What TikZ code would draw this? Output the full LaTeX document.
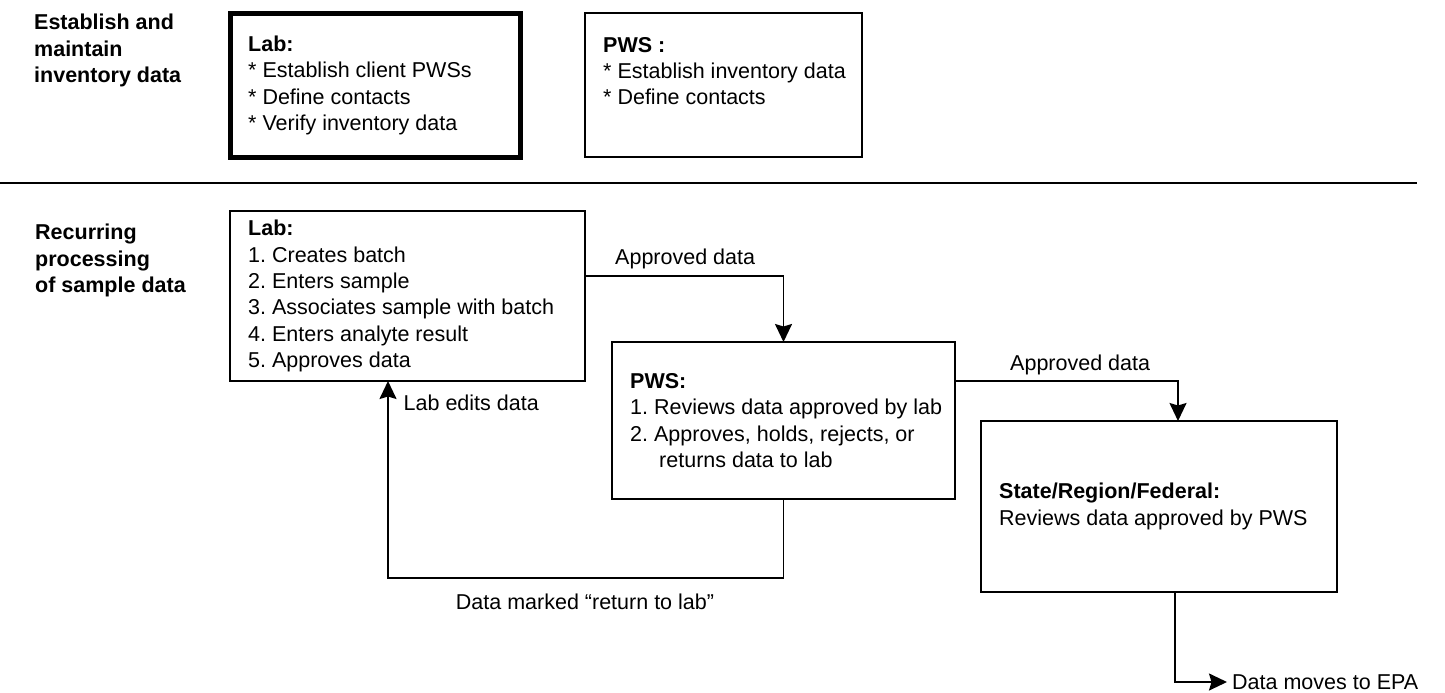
\documentclass[tikz,border=0pt]{standalone}
\usepackage{fontspec}
\setmainfont{Liberation Sans}
\usetikzlibrary{arrows.meta}
\newcommand{\dtxt}{\fontsize{21.5}{26.3}\selectfont\frenchspacing}
\begin{document}
\begin{tikzpicture}[x=1pt,y=-1pt,
  box/.style={draw, line width=1.7pt, outer sep=0pt, inner sep=0pt},
  thickbox/.style={box, line width=5pt},
  txt/.style={font=\dtxt, align=left, inner sep=0pt},
  hdr/.style={font=\dtxt\bfseries, align=left, inner sep=0pt},
  conn/.style={line width=1.8pt},
  tip/.style={-{Stealth[length=18pt,width=17pt,inset=2.5pt]}},
  sepline/.style={line width=2.6pt}
]
\useasboundingbox (0,0) rectangle (1445,693);

% left section labels
\node[hdr, anchor=north west] (sec1) at (34,14) {Establish and\\maintain\\inventory data};
\node[hdr, anchor=north west] (sec2) at (35,224) {Recurring\\processing\\of sample data};

% top boxes
\node[thickbox, minimum width=290pt, minimum height=143pt] (lab1) at (375,85.5) {};
\node[txt, anchor=west] (lab1t) at ([xshift=18pt]lab1.west) {\textbf{Lab:}\\* Establish client PWSs\\* Define contacts\\* Verify inventory data};

\node[box, minimum width=277pt, minimum height=144pt] (pws1) at (723.5,85) {};
\node[txt, anchor=north west] (pws1t) at ([xshift=18pt,yshift=-24pt]pws1.north west) {\textbf{PWS :}\\* Establish inventory data\\* Define contacts};

% separator
\coordinate (sepL) at (0,183);
\coordinate (sepR) at (1417,183);
\draw[sepline] (sepL) -- (sepR);

% process boxes
\node[box, minimum width=355pt, minimum height=170pt] (lab2) at (407.5,296) {};
\node[txt, anchor=west] (lab2t) at ([xshift=18pt]lab2.west) {\textbf{Lab:}\\1. Creates batch\\2. Enters sample\\3. Associates sample with batch\\4. Enters analyte result\\5. Approves data};

\node[box, minimum width=343pt, minimum height=157pt] (pws2) at (783.5,420.5) {};
\node[txt, anchor=west] (pws2t) at ([xshift=18pt]pws2.west) {\textbf{PWS:}\\1. Reviews data approved by lab\\2. Approves, holds, rejects, or\\\hspace*{29pt}returns data to lab};

\node[box, minimum width=356pt, minimum height=171pt] (state) at (1159,506.5) {};
\node[txt, anchor=west] (statet) at ([xshift=18pt]state.west) {\textbf{State/Region/Federal:}\\Reviews data approved by PWS};

% connector labels
\node[txt, anchor=west] (ap1) at (615,258.5) {Approved data};
\node[txt, anchor=west] (ap2) at (1010,364.5) {Approved data};
\node[txt, anchor=west] (edit) at (403.5,403) {Lab edits data};
\node[txt] (mark) at (585,601.5) {Data marked “return to lab”};
\node[font=\dtxt, inner xsep=5pt, inner ysep=0pt, anchor=west] (epa) at (1227,682) {Data moves to EPA};

% connectors
\draw[conn, tip] ([yshift=20pt]lab2.east) -| (pws2.north);
\draw[conn, tip] ([yshift=39.5pt]pws2.east) -| ([xshift=19pt]state.north);
\coordinate (ret) at (388,578);
\draw[conn, tip] (pws2.south) |- (ret) -- ([xshift=-19.5pt]lab2.south);
\draw[conn, tip] ([xshift=16pt]state.south) |- (epa.west);
\end{tikzpicture}
\end{document}
